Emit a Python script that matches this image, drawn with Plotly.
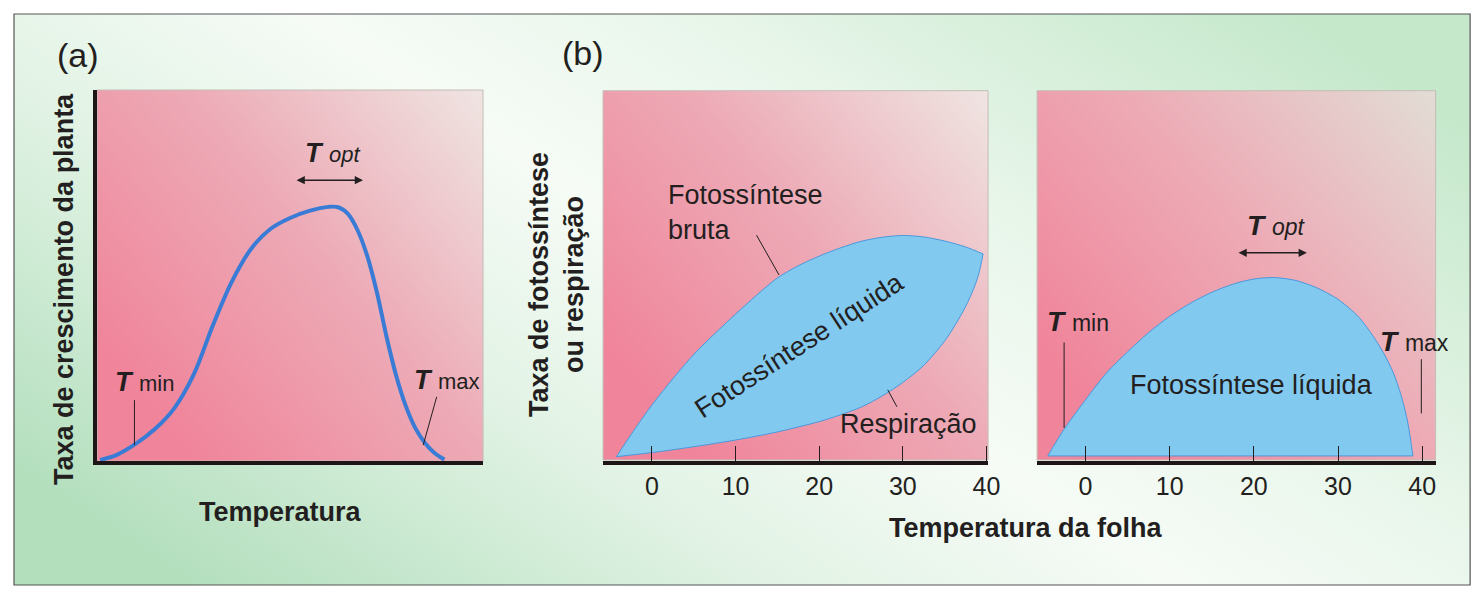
import base64
import plotly.graph_objects as go

W, H = 1479, 596
OFF = 8        # margem do <body> na pagina gerada
SX = 0.9918    # compensacao horizontal observada na captura

# (a) crescimento da planta vs temperatura (escala relativa 0-100)
A_TEMP = [0.8, 5, 10, 15, 20, 25, 30, 35, 40, 45, 50, 55, 60, 62.5, 65, 67.5, 70, 72.5, 75, 77.5, 80, 82.5, 85, 87.5, 90]
A_GROWTH = [0.3, 1.6, 4.6, 8.6, 14.2, 23.2, 36.5, 48.5, 57.3, 62.6, 65.5, 67.4, 68.5, 68.4, 66.6, 62.2, 55.3, 45.5, 33.5, 23.0, 14.8, 8.8, 4.8, 2.1, 0.4]

# (b) esquerda: fotossintese bruta e respiracao vs temperatura da folha
GROSS_TEMP = [-4.25, -2.5, 0, 2.5, 5, 7.5, 10, 12.5, 15, 17.5, 20, 22.5, 25, 27.5, 30, 32.5, 35, 37.5, 39.6]
GROSS_RATE = [0.9, 6.9, 14.9, 22.0, 28.6, 34.2, 39.5, 44.6, 49.3, 52.6, 55.2, 57.4, 59.2, 60.3, 60.8, 60.4, 59.3, 57.7, 55.8]
RESP_TEMP = [-4.25, 0, 5, 10, 15, 20, 22.5, 25, 27.5, 30, 32.5, 35, 36.25, 37.5, 38.5, 39.1, 39.6]
RESP_RATE = [0.9, 2.0, 3.6, 5.4, 7.6, 10.4, 12.2, 14.3, 17.3, 21.0, 25.6, 32.2, 36.5, 41.5, 46.5, 50.5, 55.8]

# (b) direita: fotossintese liquida
NET_TEMP = [-4.5, -2.5, 0, 2.5, 5, 7.5, 10, 12.5, 15, 17.5, 20, 22.5, 25, 27.5, 30, 32.5, 35, 36.5, 37.5, 38.3, 38.9]
NET_RATE = [1.1, 8.5, 16.3, 23.6, 29.3, 34.5, 38.9, 42.5, 45.4, 47.6, 49.0, 49.4, 48.6, 46.6, 43.5, 38.6, 30.6, 24.0, 17.5, 10.0, 1.1]

TICKS = [0, 10, 20, 30, 40]

INK = '#231f20'
FONT = 'Liberation Sans, Arial, sans-serif'
BLUE_FILL = '#82c9f0'
BLUE_EDGE = '#4a98dc'


def px(x):
    return (x - OFF) / SX / W


def py(y):
    return 1 - (y - OFF) / H


def gradient(stops, x1, y1, x2, y2):
    s = ''.join('<stop offset="%s" stop-color="%s"/>' % st for st in stops)
    svg = ('<svg xmlns="http://www.w3.org/2000/svg" width="100" height="100" viewBox="0 0 100 100" '
           'preserveAspectRatio="none"><defs><linearGradient id="g" x1="%s" y1="%s" x2="%s" y2="%s">%s'
           '</linearGradient></defs><rect width="100" height="100" fill="url(#g)"/></svg>') % (x1, y1, x2, y2, s)
    return 'data:image/svg+xml;base64,' + base64.b64encode(svg.encode()).decode()


green_bg = gradient([(0, '#b3dfbd'), (0.3, '#e2f3e5'), (0.5, '#f6fbf6'), (0.7, '#e8f6ea'), (1, '#c5e8cb')],
                    0, 0.8, 1, 0.2)
pink_bg = gradient([(0, '#f0849a'), (0.5, '#edaab6'), (1, '#efe5e2')], 0.05, 0.75, 1, 0)
pink_bg2 = gradient([(0, '#f0849a'), (0.5, '#edabb6'), (1, '#e2ddd5')], 0.05, 0.75, 1, 0)

panels = {
    'a': (97, 483, 90, 461),
    'b1': (603, 988, 90.7, 460),
    'b2': (1037, 1435.5, 90.7, 460),
}

images = [dict(source=green_bg, xref='paper', yref='paper', x=px(14), y=py(14),
               sizex=px(1470) - px(14), sizey=py(14) - py(585), xanchor='left', yanchor='top',
               sizing='stretch', layer='below')]
shapes = [dict(type='rect', xref='paper', yref='paper', x0=px(14), x1=px(1470), y0=py(585), y1=py(14),
               line=dict(color='#555555', width=1.2), layer='below')]
for k, (x0, x1, y0, y1) in panels.items():
    images.append(dict(source=pink_bg2 if k == 'b2' else pink_bg, xref='paper', yref='paper',
                       x=px(x0), y=py(y0), sizex=px(x1) - px(x0), sizey=py(y0) - py(y1),
                       xanchor='left', yanchor='top', sizing='stretch', layer='below'))
    shapes.append(dict(type='rect', xref='paper', yref='paper', x0=px(x0), x1=px(x1), y0=py(y1), y1=py(y0),
                       line=dict(color='#c4bcb6', width=1), layer='below'))

fig = go.Figure()

fig.add_trace(go.Scatter(x=A_TEMP, y=A_GROWTH, mode='lines', xaxis='x', yaxis='y',
                         line=dict(color='#3a7cd5', width=4, shape='spline', smoothing=1.0),
                         hoverinfo='skip', showlegend=False))

fig.add_trace(go.Scatter(x=RESP_TEMP, y=RESP_RATE, mode='lines', xaxis='x2', yaxis='y2',
                         line=dict(color=BLUE_EDGE, width=1, shape='spline', smoothing=0.8),
                         hoverinfo='skip', showlegend=False))
fig.add_trace(go.Scatter(x=GROSS_TEMP, y=GROSS_RATE, mode='lines', xaxis='x2', yaxis='y2',
                         fill='tonexty', fillcolor=BLUE_FILL,
                         line=dict(color=BLUE_EDGE, width=1, shape='spline', smoothing=0.8),
                         hoverinfo='skip', showlegend=False))

fig.add_trace(go.Scatter(x=[NET_TEMP[0], NET_TEMP[-1]], y=[NET_RATE[0], NET_RATE[-1]], mode='lines',
                         xaxis='x3', yaxis='y3', line=dict(color=BLUE_EDGE, width=1),
                         hoverinfo='skip', showlegend=False))
fig.add_trace(go.Scatter(x=NET_TEMP, y=NET_RATE, mode='lines', xaxis='x3', yaxis='y3',
                         fill='tonexty', fillcolor=BLUE_FILL,
                         line=dict(color=BLUE_EDGE, width=1, shape='spline', smoothing=0.8),
                         hoverinfo='skip', showlegend=False))


def xax(key, rng, ticks):
    x0, x1, y0, y1 = panels[key]
    d = dict(domain=[px(x0), px(x1)], range=rng, showgrid=False, zeroline=False,
             showline=True, linecolor='#1e1616', linewidth=4, fixedrange=True)
    if ticks:
        d.update(tickmode='array', tickvals=TICKS, ticks='inside', ticklen=15, tickwidth=1.3,
                 tickcolor=INK, tickfont=dict(family=FONT, size=25, color=INK), ticklabelstandoff=0)
    else:
        d.update(showticklabels=False, ticks='')
    return d


def yax(key):
    x0, x1, y0, y1 = panels[key]
    return dict(domain=[py(y1), py(y0)], range=[0, 100], showgrid=False, zeroline=False,
                showline=True, linecolor='#1e1616', linewidth=4, showticklabels=False,
                ticks='', fixedrange=True)


ann = []


def text(x, y, s, size=27, ref=('paper', 'paper'), **kw):
    d = dict(x=x, y=y, text=s, xref=ref[0], yref=ref[1], showarrow=False,
             xanchor='center', yanchor='middle',
             font=dict(family=FONT, size=size, color=INK))
    d.update(kw)
    ann.append(d)


def tlabel(x, y, sub, ref, big=28, small=23, italic=False):
    s = "<b><i>T</i></b> <span style='font-size:%dpx'>%s</span>" % (small, ('<i>%s</i>' % sub) if italic else sub)
    text(x, y, s, size=big, ref=ref, xanchor='left')


def arrow2(xa, xb, y, ref):
    ann.append(dict(x=xb, y=y, ax=xa, ay=y, xref=ref[0], yref=ref[1], axref=ref[0], ayref=ref[1],
                    text='', showarrow=True, arrowside='end+start', arrowhead=2, arrowsize=1.1,
                    arrowwidth=1.5, arrowcolor=INK, standoff=0, startstandoff=0))


def pointer(x0, y0, x1, y1, ref):
    shapes.append(dict(type='line', xref=ref[0], yref=ref[1], x0=x0, y0=y0, x1=x1, y1=y1,
                       line=dict(color=INK, width=1)))


# painel (a)
A = ('x', 'y')
text(px(77.5), py(55), '(a)', size=34)
text(px(64), py(289), '<b>Taxa de crescimento da planta</b>', textangle=-90)
text(px(280.5), py(512), '<b>Temperatura</b>')
tlabel(4.1, 21.3, 'min', A, big=27, small=22)
pointer(9.7, 16.4, 9.7, 4.3, A)
tlabel(81.5, 21.8, 'max', A, big=27, small=22)
pointer(88.0, 17.3, 84.5, 4.3, A)
tlabel(53.4, 83.0, 'opt', A, big=27, small=22, italic=True)
arrow2(51.3, 68.9, 75.7, A)

# painel (b)
B1 = ('x2', 'y2')
B2 = ('x3', 'y3')
text(px(583), py(53), '(b)', size=34)
text(px(556), py(285), '<b>Taxa de fotossíntese<br>ou respiração</b>', textangle=-90)
text(px(1025.5), py(528), '<b>Temperatura da folha</b>')
text(1.7, 66.9, 'Fotossíntese<br>bruta', ref=B1, xanchor='left', align='left')
pointer(12.5, 60.9, 15.2, 50.1, B1)
text(22.3, 9.7, 'Respiração', ref=B1, xanchor='left')
pointer(28.2, 19.0, 29.3, 14.4, B1)
text(17.7, 31.1, 'Fotossíntese líquida', ref=B1, textangle=-33)

text(19.7, 20.3, 'Fotossíntese líquida', ref=B2)
tlabel(-4.85, 37.4, 'min', B2)
pointer(-2.55, 31.8, -2.55, 8.7, B2)
tlabel(34.7, 32.0, 'max', B2)
pointer(39.9, 27.3, 39.9, 12.6, B2)
tlabel(19.0, 63.6, 'opt', B2, italic=True)
arrow2(18.0, 26.3, 56.1, B2)

fig.update_layout(
    width=W, height=H, autosize=False,
    margin=dict(l=0, r=0, t=0, b=0),
    paper_bgcolor='white', plot_bgcolor='rgba(0,0,0,0)',
    showlegend=False,
    xaxis=xax('a', [0, 100], False), yaxis=yax('a'),
    xaxis2=xax('b1', [-5.85, 40.2], True), yaxis2=yax('b1'),
    xaxis3=xax('b2', [-5.76, 41.6], True), yaxis3=yax('b2'),
    images=images, shapes=shapes, annotations=ann,
    font=dict(family=FONT, color=INK),
)

fig.write_html("out.html", config={'displayModeBar': False})
